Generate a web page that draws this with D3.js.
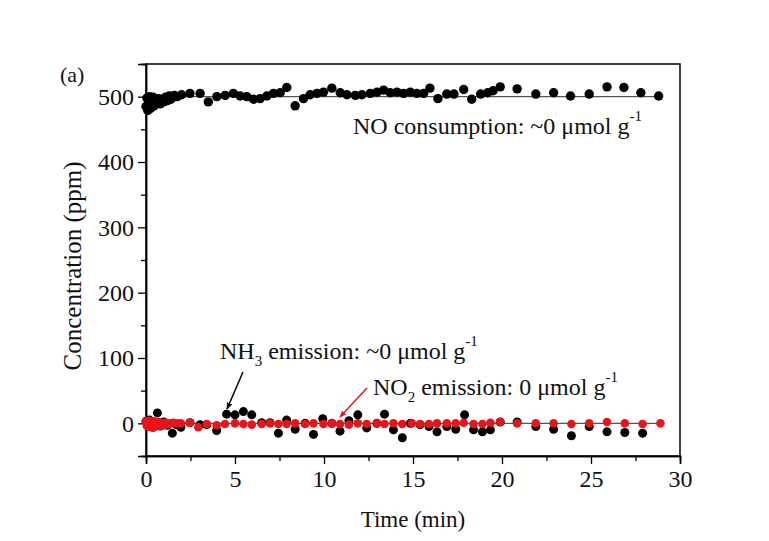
<!DOCTYPE html>
<html>
<head>
<meta charset="utf-8">
<script src="https://cdn.jsdelivr.net/npm/d3@7"></script>
<style>
  html, body { margin: 0; padding: 0; background: #fff; }
  svg { display: block; }
  text { font-family: "Liberation Serif", "Times New Roman", serif; fill: #111; }
</style>
</head>
<body>
<svg id="chart" width="769" height="541"></svg>
<script>
// ---- data ----
const noTime = [0.0,0.05,0.1,0.15,0.2,0.25,0.3,0.35,0.4,0.45,0.5,0.6,0.7,0.8,0.9,1.0,1.1,1.2,1.3,1.4,1.5,1.6,1.75,
  2.0,2.47,3.04,3.5,3.98,4.45,4.91,5.29,5.66,6.04,6.41,6.79,7.16,7.54,7.91,8.38,8.85,9.22,9.6,9.97,10.44,10.91,
  11.29,11.76,12.13,12.6,12.98,13.35,13.72,14.1,14.47,14.85,15.22,15.6,15.95,16.4,16.9,17.3,17.85,18.3,18.8,19.2,
  19.5,19.9,20.85,21.9,22.9,23.85,24.9,25.9,26.85,27.8,28.8];
const noValue = [485,498,479,492,500,482,495,488,499,486,494,490,497,489,496,492,499,494,501,496,499,502,500,
  503,505,505,492,500,502,505,501,500,496,497,501,505,506,514,486,497,503,505,507,513,506,
  503,502,503,505,507,510,506,507,505,507,505,505,513,497,504,504,511,496,504,506,
  509,515,512,504,506,501,504,515,514,506,501];

const nh3Time = [0.0,0.1,0.2,0.3,0.4,0.5,0.64,0.8,1.0,1.2,1.48,1.7,1.96,2.47,3.04,3.41,3.97,4.53,5.0,5.47,5.94,
  6.5,6.97,7.44,7.9,8.38,8.94,9.41,9.93,10.44,10.9,11.4,11.9,12.4,12.97,13.4,13.9,14.4,14.85,15.4,15.9,16.35,
  16.9,17.4,17.9,18.4,18.9,19.35,19.9,20.85,21.9,22.9,23.9,24.9,25.9,26.9,27.9];
const nh3Value = [3,-3,5,-2,-6,0,16,-4,2,-3,-15,-2,-6,1,-2,-2,-11,14,13,18,13,
  1,1,-15,5,-9,0,-17,7,0,-12,4,13,-7,0,14,-10,-22,0,-2,-5,-13,
  -5,-9,13,-10,-13,-10,2,2,-5,-9,-19,-5,-13,-14,-15];

const no2Time = [0.0,0.05,0.1,0.15,0.2,0.25,0.3,0.35,0.4,0.45,0.5,0.55,0.6,0.7,0.8,0.9,1.0,1.1,1.2,1.35,1.55,1.75,
  1.96,2.47,2.94,3.41,3.97,4.44,5.0,5.47,5.94,6.5,6.97,7.44,7.9,8.38,8.94,9.41,9.97,10.44,10.9,11.4,11.9,12.4,
  12.97,13.4,13.9,14.4,14.94,15.4,15.9,16.35,16.9,17.4,17.85,18.4,18.9,19.35,19.9,20.85,21.9,22.9,23.9,24.9,
  25.9,26.9,27.9,28.9];
const no2Value = [3,-4,2,-5,4,-2,-6,1,-3,3,-5,0,-2,2,-4,0,-3,1,-1,0,1,0,
  0,1,-6,-1,-3,-1,0,-1,-2,-1,0,-1,-1,0,-1,0,-1,0,-1,-2,0,-1,
  0,-1,0,-1,0,-1,-1,0,0,0,1,-1,-1,1,2,0,0,0,-1,0,
  2,0,-1,0];

const refLevels = [500, 0];
const xTicks = [0,5,10,15,20,25,30];
const yTicks = [0,100,200,300,400,500];

// ---- layout ----
const svg = d3.select("#chart");
const L = 146, R = 680, T = 64, B = 456;
const x = d3.scaleLinear().domain([0, 30]).range([L, R]);
const y = d3.scaleLinear().domain([-50, 550]).range([B, T]);

// frame
svg.append("rect").attr("x", L).attr("y", T).attr("width", R - L).attr("height", B - T)
  .attr("fill", "none").attr("stroke", "#000").attr("stroke-width", 1.5);

// x axis
const xAxis = d3.axisBottom(x).tickValues(xTicks).tickFormat(d3.format("d")).tickSize(8).tickPadding(6);
const gx = svg.append("g").attr("transform", `translate(0,${B})`).call(xAxis);
const xMinor = d3.axisBottom(x).tickValues(d3.range(2.5, 30, 5)).tickFormat("").tickSize(5);
const gxm = svg.append("g").attr("transform", `translate(0,${B})`).call(xMinor);

// y axis
const yAxis = d3.axisLeft(y).tickValues(yTicks).tickFormat(d3.format("d")).tickSize(8).tickPadding(4);
const gy = svg.append("g").attr("transform", `translate(${L},0)`).call(yAxis);
const yMinor = d3.axisLeft(y).tickValues([-50,50,150,250,350,450,550]).tickFormat("").tickSize(5);
const gym = svg.append("g").attr("transform", `translate(${L},0)`).call(yMinor);

[gx, gxm, gy, gym].forEach(g => {
  g.select(".domain").attr("stroke", "#000").attr("stroke-width", 1.5);
  g.selectAll(".tick line").attr("stroke", "#000").attr("stroke-width", 1.3);
  g.selectAll(".tick text").style("font-family", "'Liberation Serif', serif").style("font-size", "24px").attr("fill", "#111");
});

// reference lines
svg.append("g").selectAll("line").data(refLevels).join("line")
  .attr("x1", x(0)).attr("x2", x(29)).attr("y1", d => y(d)).attr("y2", d => y(d))
  .attr("stroke", "#555").attr("stroke-width", 1.2);

// points
const noPts = noTime.map((t, i) => [t, noValue[i]]);
const nh3Pts = nh3Time.map((t, i) => [t, nh3Value[i]]);
const no2Pts = no2Time.map((t, i) => [t, no2Value[i]]);

svg.append("g").selectAll("circle").data(noPts).join("circle")
  .attr("cx", d => x(d[0])).attr("cy", d => y(d[1])).attr("r", 4.7).attr("fill", "#000");
svg.append("g").selectAll("circle").data(nh3Pts).join("circle")
  .attr("cx", d => x(d[0])).attr("cy", d => y(d[1])).attr("r", 4.5).attr("fill", "#000");
svg.append("g").selectAll("circle").data(no2Pts).join("circle")
  .attr("cx", d => x(d[0])).attr("cy", d => y(d[1])).attr("r", 4.3).attr("fill", "#e8141b");

// axis titles
svg.append("text").attr("x", (L + R) / 2).attr("y", 527).attr("text-anchor", "middle")
  .style("font-size", "23px").text("Time (min)");
svg.append("text").attr("transform", `translate(81,266) rotate(-90)`).attr("text-anchor", "middle")
  .style("font-size", "25px").text("Concentration (ppm)");
svg.append("text").attr("x", 60).attr("y", 82).style("font-size", "22px").text("(a)");

// annotations
function annot(xp, yp, parts) {
  const t = svg.append("text").attr("x", xp).attr("y", yp).style("font-size", "24px");
  parts.forEach(p => {
    const s = t.append("tspan").text(p.t);
    if (p.sub) s.attr("dy", 7).style("font-size", "15px");
    if (p.sup) s.attr("dy", -13).style("font-size", "15px");
    if (p.back) s.attr("dy", p.back);
  });
  return t;
}
annot(353, 134, [{t: "NO consumption: ~0 μmol g"}, {t: "-1", sup: true}]);
annot(220, 359, [{t: "NH"}, {t: "3", sub: true}, {t: " emission: ~0 μmol g", back: -7}, {t: "-1", sup: true}]);
annot(373, 395, [{t: "NO"}, {t: "2", sub: true}, {t: " emission: 0 μmol g", back: -7}, {t: "-1", sup: true}]);

// arrows
const defs = svg.append("defs");
[["blk", "#000"], ["red", "#e8141b"]].forEach(([id, c]) => {
  defs.append("marker").attr("id", id).attr("viewBox", "0 0 10 10").attr("refX", 9).attr("refY", 5)
    .attr("markerWidth", 7).attr("markerHeight", 7).attr("orient", "auto").attr("markerUnits", "userSpaceOnUse")
    .append("path").attr("d", "M0,1 L10,5 L0,9 Z").attr("fill", c);
});
svg.append("line").attr("x1", 243).attr("y1", 372).attr("x2", 227).attr("y2", 409)
  .attr("stroke", "#000").attr("stroke-width", 1.5).attr("marker-end", "url(#blk)");
svg.append("line").attr("x1", 367).attr("y1", 388).attr("x2", 340).attr("y2", 417)
  .attr("stroke", "#e8141b").attr("stroke-width", 1.5).attr("marker-end", "url(#red)");
</script>
</body>
</html>
